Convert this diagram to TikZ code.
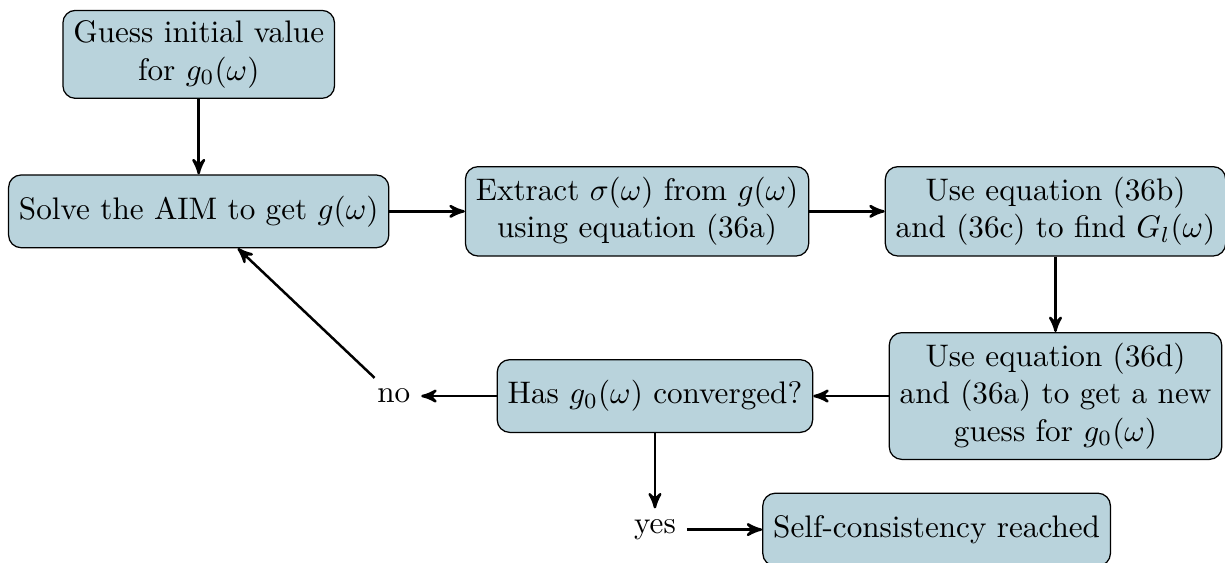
\documentclass[tikz,border=0pt]{standalone}
\usepackage{amsmath}
\usetikzlibrary{calc,positioning,arrows,shapes}
\definecolor{loopfill}{RGB}{185,211,220}
\tikzset{
>=stealth',
  loopblock/.style={
    rectangle,
    rounded corners,
    draw=black,
    fill=loopfill,
    align=center,
    minimum height=0.82cm},
  line/.style={draw, thick, ->},
  answer/.style={inner sep=3.33pt},
}
\begin{document}
\begin{tikzpicture}
  [node distance=.85cm]
     \node[loopblock] (guess) {Guess initial value\\ for $g_0(\omega)$};
     \node[loopblock, below=of guess] (solve) {Solve the AIM to get $g(\omega)$};
     \node[loopblock, right=of solve] (extract) {Extract $\sigma(\omega)$ from $g(\omega)$\\ using equation (36a)};
     \node[loopblock, right=of extract] (findGl) {Use equation (36b)\\ and (36c) to find $G_l(\omega)$};
     \node[loopblock, below=of findGl] (newGuess) {Use equation (36d)\\ and (36a) to get a new\\ guess for $g_0(\omega)$};
     \node[loopblock, left=of newGuess] (converged) {Has $g_0(\omega)$ converged?};
     \node[answer, left=of converged] (no) {no};
     \node[answer, below=of converged] (yes) {yes};
     \node[loopblock, right=of yes] (reached) {Self-consistency reached};
     \path[line] (guess) -- (solve);
     \path[line] (solve) -- (extract);
     \path[line] (extract) -- (findGl);
     \path[line] (findGl) -- (newGuess);
     \path[line] (newGuess) -- (converged);
     \path[line] (converged) -- (no);
     \path[line] (no) -- (solve);
     \path[line] (converged) -- (yes);
     \path[line] (yes) -- (reached);
     % crop like the original
     \pgfresetboundingbox
     \useasboundingbox ($(solve.west |- guess.north)+(-0.09,0.11)$)
       rectangle ($(newGuess.east |- reached.center)+(0.03,-0.37)$);
\end{tikzpicture}
\end{document}
